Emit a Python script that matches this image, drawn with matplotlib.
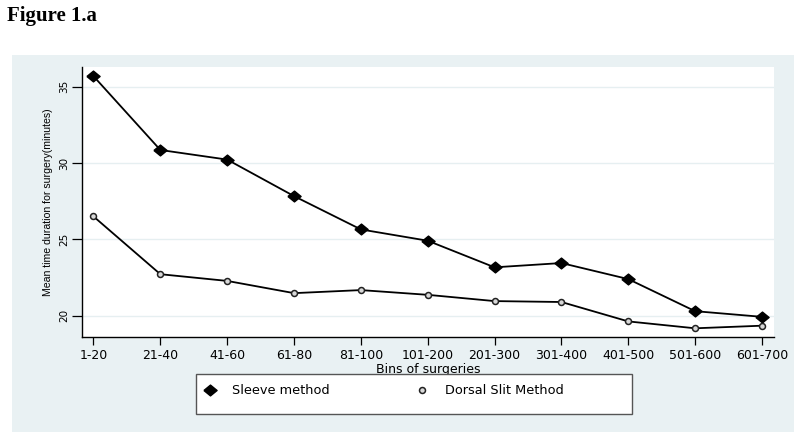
import matplotlib
matplotlib.use("Agg")
import matplotlib.pyplot as plt
from matplotlib.patches import Rectangle
from matplotlib.lines import Line2D

bins = ["1-20", "21-40", "41-60", "61-80", "81-100", "101-200", "201-300",
        "301-400", "401-500", "501-600", "601-700"]
sleeve = [35.68, 30.85, 30.22, 27.83, 25.65, 24.91, 23.17, 23.45, 22.40, 20.30, 19.93]
dorsal = [26.50, 22.72, 22.28, 21.48, 21.68, 21.37, 20.96, 20.90, 19.63, 19.18, 19.35]
yticks = [20, 25, 30, 35]
series_labels = ["Sleeve method", "Dorsal Slit Method"]

W, H = 800, 438
fig = plt.figure(figsize=(W / 100, H / 100), dpi=100)
fig.patch.set_facecolor("white")

def fx(px):
    return px / W

def fy(py):
    return (H - py) / H

panel_color = "#e9f1f3"
fig.add_artist(Rectangle((fx(12), fy(432)), fx(794) - fx(12), fy(55) - fy(432),
                         transform=fig.transFigure, facecolor=panel_color,
                         edgecolor="none", zorder=0))

ax = fig.add_axes([fx(82), fy(337), fx(774) - fx(82), fy(67) - fy(337)])
ax.set_facecolor("white")
x = list(range(len(bins)))

diamond = [(-1, 0), (0, 0.82), (1, 0), (0, -0.82), (-1, 0)]
ax.plot(x, sleeve, color="black", lw=1.3, marker=diamond, markersize=9.5,
        mfc="black", mec="black", zorder=3)
ax.plot(x, dorsal, color="black", lw=1.3, marker="o", markersize=4.3,
        mfc="#d8d8d8", mec="#222222", mew=1.1, zorder=3)

ax.set_xlim(-0.172, 10.18)
ax.set_ylim(18.61, 36.28)
ax.set_yticks(yticks)
ax.set_yticklabels([str(v) for v in yticks], rotation=90, va="center",
                   fontsize=7.5, family="DejaVu Sans")
ax.set_xticks(x)
ax.set_xticklabels(bins, fontsize=9, family="DejaVu Sans")
ax.tick_params(axis="x", length=6, width=0.9, pad=2.5)
ax.tick_params(axis="y", length=7, width=0.9, pad=2)
ax.grid(axis="y", color="#e6eff1", lw=1.0)
ax.set_axisbelow(True)
for s in ["top", "right"]:
    ax.spines[s].set_visible(False)
for s in ["left", "bottom"]:
    ax.spines[s].set_linewidth(1.0)

ax.set_xlabel("Bins of surgeries", fontsize=9, family="DejaVu Sans", labelpad=0.5)
ax.set_ylabel("Mean time duration for surgery(minutes)", fontsize=7.6,
              family="Liberation Sans", labelpad=5)

fig.text(fx(7), fy(21), "Figure 1.a", fontsize=15, fontweight="bold",
         family="Liberation Serif", ha="left", va="baseline")

# legend box
fig.add_artist(Rectangle((fx(196), fy(414)), fx(632) - fx(196), fy(374) - fy(414),
                         transform=fig.transFigure, facecolor="white",
                         edgecolor="#555555", lw=1.0, zorder=1))
fig.add_artist(Line2D([fx(210)], [fy(390)], transform=fig.transFigure,
                      marker=diamond, markersize=9.5, color="black", lw=0, zorder=2))
fig.add_artist(Line2D([fx(422)], [fy(390)], transform=fig.transFigure,
                      marker="o", markersize=4.3, mfc="#d8d8d8", mec="#222222",
                      mew=1.1, lw=0, zorder=2))
fig.text(fx(232), fy(390), series_labels[0], fontsize=9.3, family="DejaVu Sans",
         ha="left", va="center", zorder=2)
fig.text(fx(445), fy(390), series_labels[1], fontsize=9.3, family="DejaVu Sans",
         ha="left", va="center", zorder=2)

fig.savefig("out.png", dpi=100, facecolor="white")
